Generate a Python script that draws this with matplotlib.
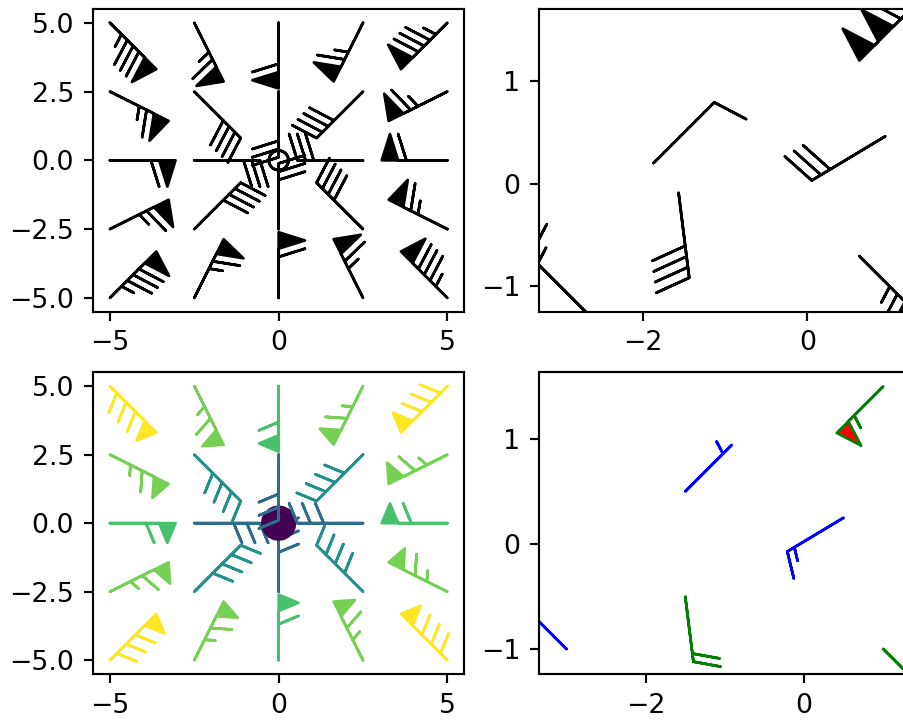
import matplotlib
matplotlib.use("Agg")
import matplotlib.pyplot as plt
import numpy as np

# Uniform grid (5 x 5) positions and wind components
grid_x = [[-5.0, -2.5, 0.0, 2.5, 5.0]] * 5
grid_y = [[-5.0] * 5, [-2.5] * 5, [0.0] * 5, [2.5] * 5, [5.0] * 5]
grid_u = [[-60, -30, 0, 30, 60]] * 5
grid_v = [[-60] * 5, [-30] * 5, [0] * 5, [30] * 5, [60] * 5]

# Arbitrary set of vectors
pts_x = [-1.5, 1.0, -3.0, 1.0, 0.5, -1.5]
pts_y = [0.5, -1.0, -1.0, 1.5, 0.25, -0.5]
pts_u = [-6, -46, 11, 80, 25, -5]
pts_v = [-6, 46, -11, 80, 15, 40]

X = np.array(grid_x, dtype=float)
Y = np.array(grid_y, dtype=float)
U = np.array(grid_u, dtype=float)
V = np.array(grid_v, dtype=float)
px = np.array(pts_x)
py = np.array(pts_y)
pu = np.array(pts_u, dtype=float)
pv = np.array(pts_v, dtype=float)

DPI = 193
W, H = 903, 721
fig = plt.figure(figsize=(W / DPI, H / DPI), dpi=DPI)

def add_ax(l, t, r, b):
    return fig.add_axes([l / W, 1 - b / H, (r - l) / W, (b - t) / H])

ax00 = add_ax(93, 9, 464.3, 311.7)
ax01 = add_ax(539, 9, 910.3, 311.7)
ax10 = add_ax(93, 372.3, 464.3, 674)
ax11 = add_ax(539, 372.3, 910.3, 674)

ax00.barbs(X, Y, U, V)

ax01.barbs(px, py, pu, pv, length=8, pivot='middle')

ax10.barbs(X, Y, U, V, np.sqrt(U ** 2 + V ** 2), fill_empty=True,
           rounding=False,
           sizes=dict(emptybarb=0.25, spacing=0.2, height=0.3))

ax11.barbs(px, py, pu, pv, flagcolor='r', barbcolor=['b', 'g'],
           flip_barb=True,
           barb_increments=dict(half=10, full=20, flag=100))

for ax in (ax00, ax10):
    ax.set_xlim(-5.5, 5.5)
    ax.set_ylim(-5.5, 5.5)
    ax.set_xticks([-5, 0, 5])
    ax.set_yticks([-5.0, -2.5, 0.0, 2.5, 5.0])

ax01.set_xlim(-3.26, 1.25)
ax01.set_ylim(-1.246, 1.707)
ax11.set_xlim(-3.347, 1.342)
ax11.set_ylim(-1.238, 1.635)
for ax in (ax01, ax11):
    ax.set_xticks([-2, 0])
    ax.set_yticks([-1, 0, 1])

fig.savefig("out.png", dpi=DPI)
